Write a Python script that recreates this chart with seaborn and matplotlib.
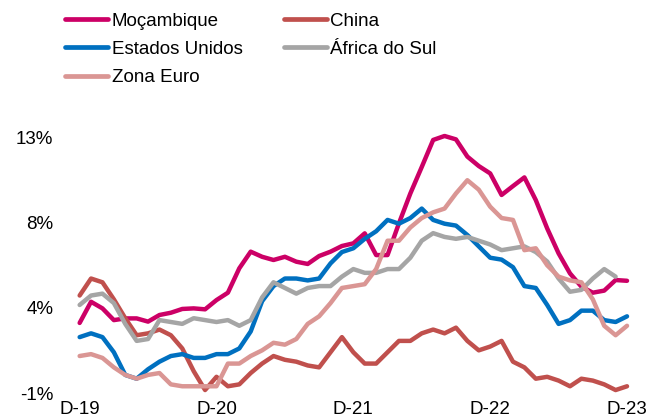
import numpy as np
import pandas as pd
import matplotlib
matplotlib.use("Agg")
import matplotlib.pyplot as plt
import matplotlib.transforms as mtransforms
import seaborn as sns

# Inflação homóloga mensal, Dez-2019 a Dez-2023
months = pd.date_range("2019-12-01", periods=49, freq="MS")

mocambique = [3.05, 4.17, 3.82, 3.2, 3.29, 3.29, 3.12, 3.47, 3.59, 3.79, 3.82, 3.77, 4.26,
              4.65, 5.94, 6.82, 6.55, 6.38, 6.55, 6.29, 6.17, 6.59, 6.82, 7.12, 7.26,
              7.79, 6.64, 6.64, 8.32, 9.9, 11.3, 12.73, 12.94, 12.76, 11.85, 11.35, 10.96,
              9.82, 10.29, 10.75, 9.55, 8.05, 6.73, 5.67, 4.97, 4.65, 4.76, 5.32, 5.28]
china = [4.5, 5.4, 5.2, 4.3, 3.3, 2.4, 2.5, 2.7, 2.4, 1.7, 0.5, -0.5, 0.2,
         -0.3, -0.2, 0.4, 0.9, 1.3, 1.1, 1.0, 0.8, 0.7, 1.5, 2.3, 1.5,
         0.9, 0.9, 1.5, 2.1, 2.1, 2.5, 2.7, 2.5, 2.8, 2.1, 1.6, 1.8,
         2.1, 1.0, 0.7, 0.1, 0.2, 0.0, -0.3, 0.1, 0.0, -0.2, -0.5, -0.3]
estados_unidos = [2.3, 2.5, 2.3, 1.5, 0.3, 0.1, 0.6, 1.0, 1.3, 1.4, 1.2, 1.2, 1.4,
                  1.4, 1.7, 2.6, 4.2, 5.0, 5.4, 5.4, 5.3, 5.4, 6.2, 6.8, 7.0,
                  7.5, 7.9, 8.5, 8.3, 8.6, 9.1, 8.5, 8.3, 8.2, 7.7, 7.1, 6.5,
                  6.4, 6.0, 5.0, 4.9, 4.0, 3.0, 3.2, 3.7, 3.7, 3.2, 3.1, 3.4]
africa_do_sul = [4.0, 4.5, 4.6, 4.1, 3.0, 2.1, 2.2, 3.2, 3.1, 3.0, 3.3, 3.2, 3.1,
                 3.2, 2.9, 3.2, 4.4, 5.2, 4.9, 4.6, 4.9, 5.0, 5.0, 5.5, 5.9,
                 5.7, 5.7, 5.9, 5.9, 6.5, 7.4, 7.8, 7.6, 7.5, 7.6, 7.4, 7.2,
                 6.9, 7.0, 7.1, 6.8, 6.3, 5.4, 4.7, 4.8, 5.4, 5.9, 5.5, np.nan]
zona_euro = [1.3, 1.4, 1.2, 0.7, 0.3, 0.1, 0.3, 0.4, -0.2, -0.3, -0.3, -0.3, -0.3,
             0.9, 0.9, 1.3, 1.6, 2.0, 1.9, 2.2, 3.0, 3.4, 4.1, 4.9, 5.0,
             5.1, 5.9, 7.4, 7.4, 8.1, 8.6, 8.9, 9.1, 9.9, 10.6, 10.1, 9.2,
             8.6, 8.5, 6.9, 7.0, 6.1, 5.5, 5.3, 5.2, 4.3, 2.9, 2.4, 2.9]

series = ["Moçambique", "China", "Estados Unidos", "África do Sul", "Zona Euro"]
colors = {"Moçambique": "#CC0066", "China": "#C0504D", "Estados Unidos": "#0070C0",
          "África do Sul": "#A5A5A5", "Zona Euro": "#DA9694"}

x_ticks = [0, 12, 24, 36, 48]
x_labels = ["D-19", "D-20", "D-21", "D-22", "D-23"]
y_ticks = [-1, 3.5, 8, 12.5]
y_labels = ["-1%", "4%", "8%", "13%"]

df = pd.DataFrame({"mes": np.arange(len(months)),
                   "Moçambique": mocambique, "China": china,
                   "Estados Unidos": estados_unidos, "África do Sul": africa_do_sul,
                   "Zona Euro": zona_euro})
long = df.melt(id_vars="mes", var_name="pais", value_name="inflacao")

sns.set_style("white")
plt.rcParams["font.family"] = ["Liberation Sans", "DejaVu Sans"]
plt.rcParams["text.color"] = "black"
plt.rcParams["xtick.color"] = "black"
plt.rcParams["ytick.color"] = "black"

fig = plt.figure(figsize=(6.67, 4.19), dpi=100)
W, H = 667, 419
# axes position in pixels
left, right = 72.8, 629.3
bottom, top = 399.5, 125.4
ax = fig.add_axes([left / W, 1 - bottom / H, (right - left) / W, (bottom - top) / H])

sns.lineplot(data=long, x="mes", y="inflacao", hue="pais", hue_order=series,
             palette=colors, linewidth=3.2, solid_capstyle="round", ax=ax)

ax.set_xlim(-0.6, 48.2)
ax.set_ylim(-1, 13.5)
for ln in ax.get_lines():
    ln.set_clip_on(False)

ax.set_xticks(x_ticks)
ax.set_xticklabels(x_labels, fontsize=13.5)
ax.set_yticks(y_ticks)
ax.set_yticklabels(y_labels, fontsize=13.5)
ax.tick_params(axis="x", length=0, pad=1, labelcolor="black")
ax.tick_params(axis="y", length=0, pad=14, labelcolor="black")
ax.set_xlabel("")
ax.set_ylabel("")
for s in ax.spines.values():
    s.set_visible(False)

shift = mtransforms.ScaledTranslation(0, 0.065, fig.dpi_scale_trans)
for lab in ax.get_yticklabels():
    lab.set_transform(lab.get_transform() + shift)

handles, labels = ax.get_legend_handles_labels()
ax.get_legend().remove()
lookup = dict(zip(labels, handles))
order = ["Moçambique", "Estados Unidos", "Zona Euro", "China", "África do Sul"]
hs = [lookup[k] for k in order]
for h in hs:
    h.set_linewidth(3.4)
    h.set_solid_capstyle("round")
fig.legend(hs, order, loc="upper left", bbox_to_anchor=(65 / W, 1 - 12.5 / H),
           ncol=2, frameon=False, fontsize=13.5, handlelength=2.3,
           handletextpad=0.18, columnspacing=2.2, labelspacing=0.6,
           borderpad=0, borderaxespad=0, labelcolor="black")

fig.savefig("out.png", dpi=100)
